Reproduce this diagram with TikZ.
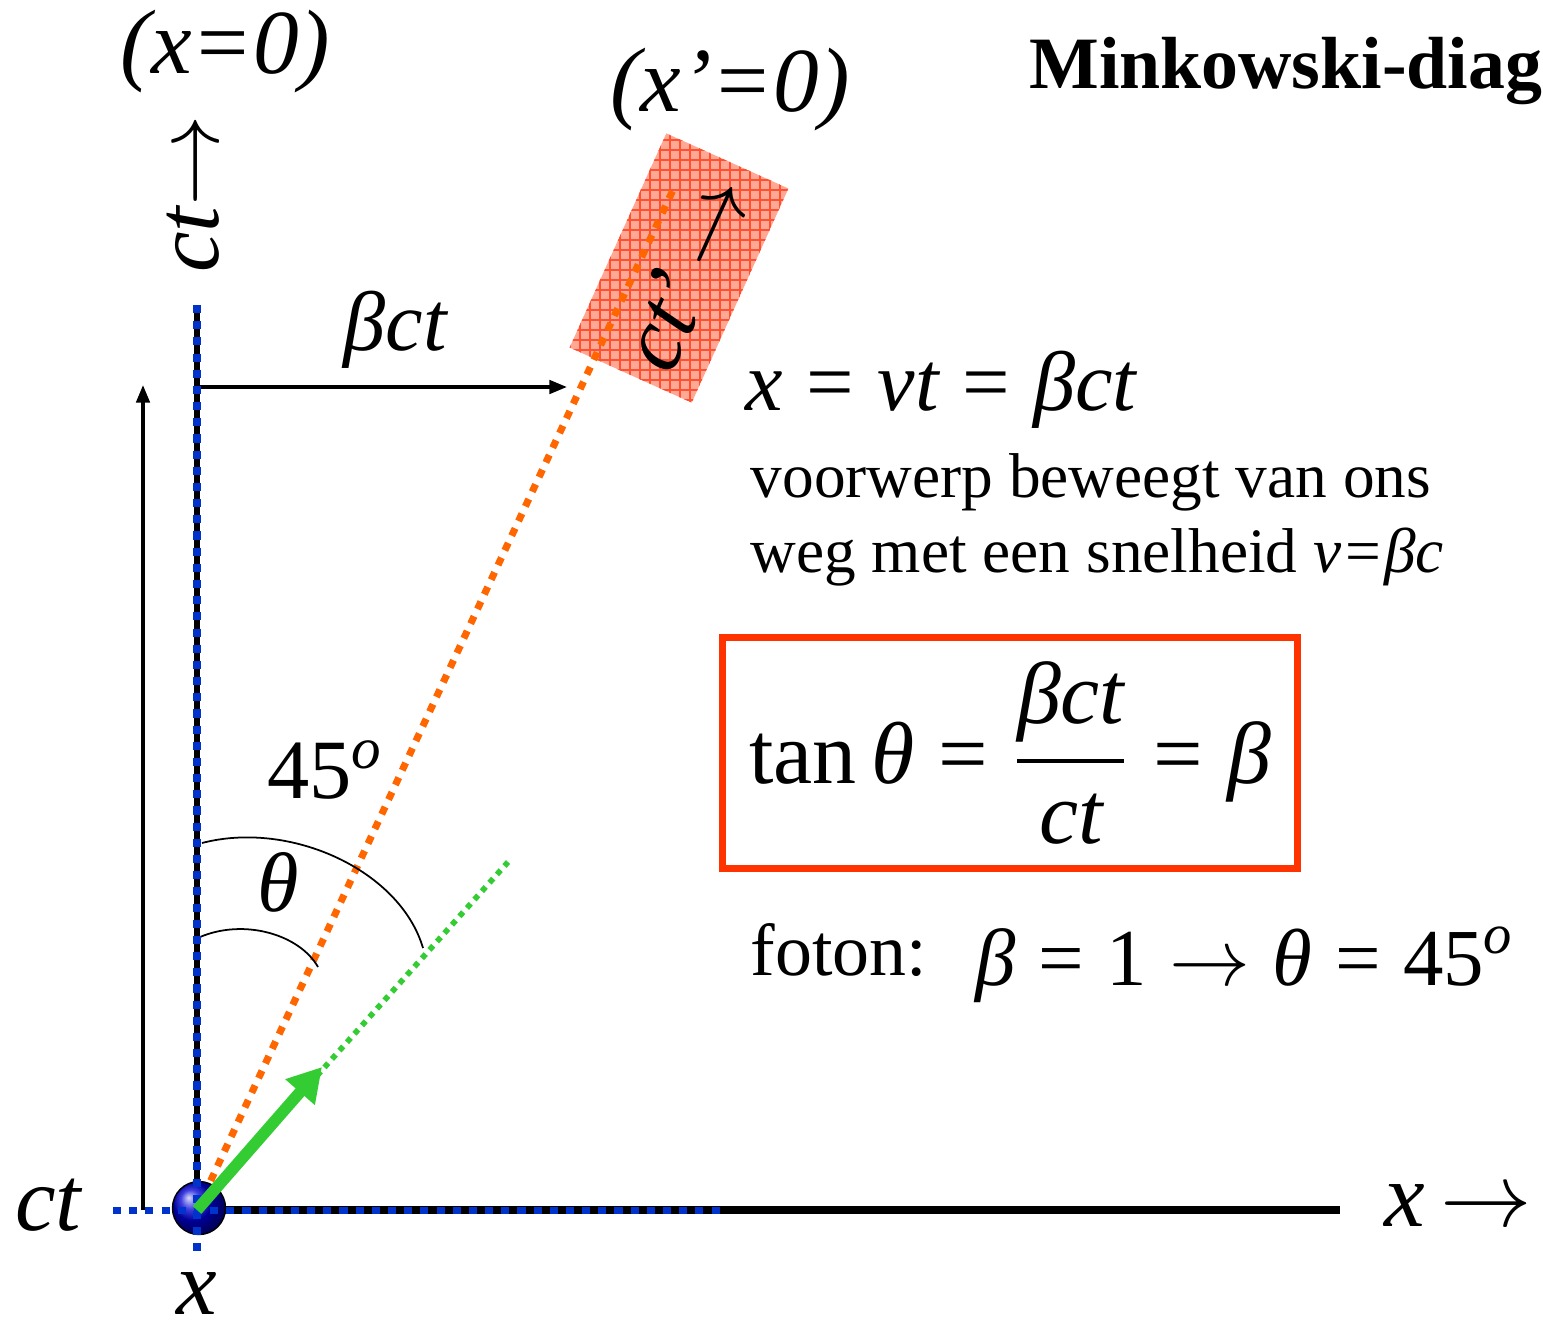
\RequirePackage{fix-cm}
\documentclass[tikz,border=0pt]{standalone}
\usepackage{amsmath}
\usepackage{fontspec}
\setmainfont{Liberation Serif}
\usetikzlibrary{arrows.meta}
\definecolor{axisblue}{HTML}{0033CC}
\definecolor{photongreen}{HTML}{33CC33}
\definecolor{wlorange}{HTML}{FF6600}
\definecolor{boxred}{HTML}{FF3300}
\definecolor{objfill}{HTML}{FFA896}
\definecolor{objgrid}{HTML}{FF5030}
\newcommand{\mi}[1]{\text{\itshape #1}}
\newcommand{\eq}{\mathrel{\text{=}}}
\tikzset{
  axisline/.style={line width=1.9pt, black},
  bluedots/.style={line width=2pt, axisblue, dash pattern=on 2.3pt off 2.3pt},
  orangedots/.style={line width=2pt, wlorange, dash pattern=on 2.3pt off 2.3pt},
  greendots/.style={line width=1.6pt, photongreen, dash pattern=on 1.6pt off 1.6pt},
  thinarr/.style={-{Triangle[length=5pt,width=3.8pt]}, line width=1pt},
  anglearc/.style={line width=0.5pt},
  biglbl/.style={font=\fontsize{26}{30}\selectfont\itshape, inner sep=0pt},
  symlbl/.style={font=\fontsize{24}{28}\selectfont, inner sep=0pt},
  bodytxt/.style={font=\fontsize{18}{22}\selectfont, inner sep=0pt, anchor=base west},
}

\begin{document}
\begin{tikzpicture}[x=0.01cm, y=-0.01cm]
  \useasboundingbox (0,0) rectangle (1543,1330);

  %% key points
  \coordinate (O) at (197,1210);
  \coordinate (ctTop) at (197,305);
  \coordinate (ctLow) at (197,1255);
  \coordinate (xEnd) at (1340,1210);
  \coordinate (xDotL) at (113,1210);
  \coordinate (xDotR) at (727,1210);
  \coordinate (wlEnd) at (673,190);   % world line of the object
  \coordinate (phEnd) at (508,862);   % light ray
  \coordinate (upFoot) at (143,1210);
  \coordinate (upTip) at (143,385);
  \coordinate (bFoot) at (197,387);
  \coordinate (bTip) at (567,387);

  %% moving object, screen-aligned hatch
  \begin{scope}
    \clip[rotate around={-24.3:(679,268)}] (612,150.5) rectangle (746,385.5);
    \fill[objfill] (540,110) rectangle (810,420);
    \foreach \gx in {540,550,...,810}
      \draw[objgrid, line width=0.3pt] (\gx,110) -- (\gx,420);
    \foreach \gy in {110,120,...,420}
      \draw[objgrid, line width=0.3pt] (540,\gy) -- (810,\gy);
  \end{scope}

  %% axes
  \draw[axisline] (O) -- (ctTop);
  \draw[axisline, line width=2.1pt] (O) -- (xEnd);

  %% time and distance arrows
  \draw[thinarr] (upFoot) -- (upTip);
  \draw[thinarr] (bFoot) -- (bTip);

  %% world line and light ray
  \draw[orangedots] (O) -- (wlEnd);
  \draw[greendots] (O) -- (phEnd);

  %% angle arcs
  \coordinate (arcA) at (202,843);
  \coordinate (arcB) at (423,948);
  \coordinate (arcC) at (200,937);
  \coordinate (arcD) at (318,967);
  \draw[anglearc] (arcA) .. controls (290,820) and (400,870) .. (arcB);
  \draw[anglearc] (arcC) .. controls (245,918) and (300,935) .. (arcD);

  %% observer
  \node[circle, ball color=blue!85!black, draw=black, line width=0.4pt,
        minimum size=0.53cm, inner sep=0pt] (ball) at (199,1208) {};

  \draw[bluedots] (ctTop) -- (ctLow);
  \draw[bluedots] (xDotL) -- (xDotR);

  %% photon
  \coordinate (phTip) at (322,1067);
  \draw[photongreen, line width=3.3pt,
        -{Triangle[length=9.5pt,width=10.5pt]}] (O) -- (phTip);

  %% labels
  \node[biglbl] (xzero) at (225,52) {(x=0)};
  \node[biglbl] (xpzero) at (730,90) {(x’=0)};
  \node[font=\fontsize{21}{25}\selectfont\bfseries, inner sep=0pt,
        anchor=base east] (title) at (1543,88) {Minkowski-diag};
  \node[biglbl, rotate=90] (ctaxis) at (193,194) {ct$\rightarrow$};
  \node[biglbl, rotate=65.7] (ctpaxis) at (686,272) {ct’\,$\rightarrow$};
  \node[biglbl] (ctlbl) at (48,1205) {ct};
  \node[biglbl] (xlbl) at (197,1293) {x};
  \node[biglbl] (xaxis) at (1458,1205) {x\,$\rightarrow$};
  \node[symlbl, font=\fontsize{24}{28}\selectfont\itshape] (blbl) at (395,330) {βct};
  \node[symlbl] (fortyfive) at (325,770) {45\textsuperscript{\itshape o}};
  \node[symlbl, font=\fontsize{24}{28}\selectfont\itshape] (thlbl) at (278,882) {θ};

  %% right-hand text
  \node[symlbl, anchor=base west] (xvt) at (745,410)
    {$\mi{x} \eq \mi{vt} \eq \mi{βct}$};
  \node[bodytxt] (line1) at (750,497) {voorwerp beweegt van ons};
  \node[bodytxt] (line2) at (750,572) {weg met een snelheid {\itshape v=βc}};

  \node[draw=boxred, line width=2pt, minimum width=5.74cm, minimum height=2.3cm,
        font=\fontsize{25}{30}\selectfont] (tanbox) at (1010,753)
    {$\text{tan}\,\mi{θ} \eq \dfrac{\mi{βct}}{\mi{ct}} \eq \mi{β}$};

  \node[bodytxt, font=\fontsize{21}{25}\selectfont] (foton) at (750,975) {foton:};
  \node[symlbl, font=\fontsize{23}{28}\selectfont, anchor=base west] (fotoneq) at (975,985)
    {$\mi{β} \eq \text{1} \rightarrow \mi{θ} \eq \text{45}^{\mi{o}}$};
\end{tikzpicture}
\end{document}
